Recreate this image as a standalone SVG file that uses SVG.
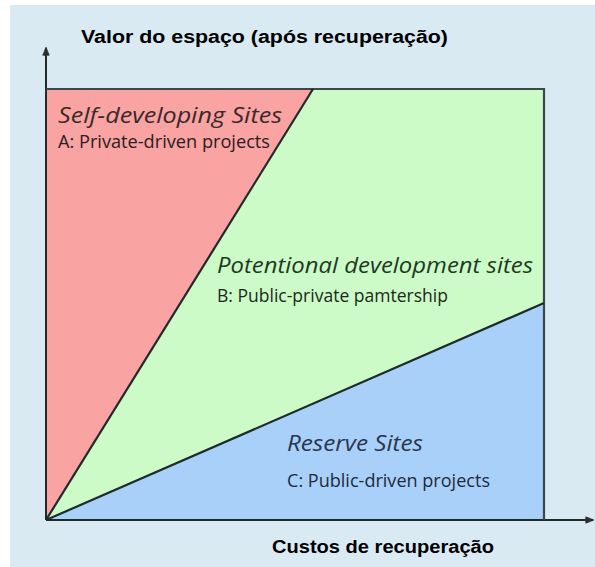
<svg xmlns="http://www.w3.org/2000/svg" width="595" height="567" viewBox="0 0 595 567">
<style>
.ax{font-family:"Liberation Sans",Arial,sans-serif;font-weight:bold;font-size:18px;fill:#000}
.ttl{font-family:"Open Sans","DejaVu Sans Condensed",sans-serif;font-style:italic;font-size:22px;fill:#3a2a2a}
.sub{font-family:"Open Sans","DejaVu Sans Condensed",sans-serif;font-size:18px;fill:#2a2020}
.edge{stroke:#1f2a2a;stroke-width:2.2;fill:none}
</style>
<defs>
<marker id="arr" viewBox="0 0 10 10" refX="9" refY="5" markerWidth="14" markerHeight="8" orient="auto" markerUnits="userSpaceOnUse">
<path d="M0,1 L10,5 L0,9 Z" fill="#2a3030" stroke="#2a3030" stroke-width="1"/>
</marker>
</defs>
<rect x="0" y="0" width="595" height="567" fill="#ffffff"/>
<rect x="10" y="5" width="585" height="562" fill="#d9eaf3"/>
<g id="regionA">
<polygon points="46,520 46,89 313,89" fill="#f9a3a3"/>
</g>
<g id="regionB">
<polygon points="46,520 313,89 544,89 544,303" fill="#ccfbc8"/>
</g>
<g id="regionC">
<polygon points="46,520 544,303 544,520" fill="#a8d0f8"/>
</g>
<g id="connectors">
<line class="edge" x1="46" y1="520" x2="46" y2="48" marker-end="url(#arr)" style="stroke-width:2"/>
<line class="edge" x1="46" y1="520" x2="593" y2="520" marker-end="url(#arr)" style="stroke-width:2"/>
<polyline class="edge" points="46,89 544,89 544,520" style="stroke:#3a4848"/>
<line class="edge" x1="46" y1="520" x2="313" y2="89"/>
<line class="edge" x1="46" y1="520" x2="544" y2="303"/>
</g>
<g id="labelA">
<text class="ttl" x="58" y="123" textLength="224" lengthAdjust="spacingAndGlyphs">Self-developing Sites</text>
<text class="sub" x="58" y="148" textLength="212" lengthAdjust="spacingAndGlyphs">A: Private-driven projects</text>
</g>
<g id="labelB">
<text class="ttl" x="217" y="273" textLength="316" lengthAdjust="spacingAndGlyphs" style="fill:#1f3a24">Potentional development sites</text>
<text class="sub" x="217" y="302" textLength="231" lengthAdjust="spacingAndGlyphs" style="fill:#1a2a1a">B: Public-private pamtership</text>
</g>
<g id="labelC">
<text class="ttl" x="287" y="451" textLength="136" lengthAdjust="spacingAndGlyphs" style="fill:#2a3550">Reserve Sites</text>
<text class="sub" x="287" y="487" textLength="203" lengthAdjust="spacingAndGlyphs" style="fill:#1f2a40">C: Public-driven projects</text>
</g>
<g id="axisLabels">
<text class="ax" x="81" y="43" textLength="367" lengthAdjust="spacingAndGlyphs">Valor do espaço (após recuperação)</text>
<text class="ax" x="272" y="553" textLength="222" lengthAdjust="spacingAndGlyphs">Custos de recuperação</text>
</g>
</svg>
